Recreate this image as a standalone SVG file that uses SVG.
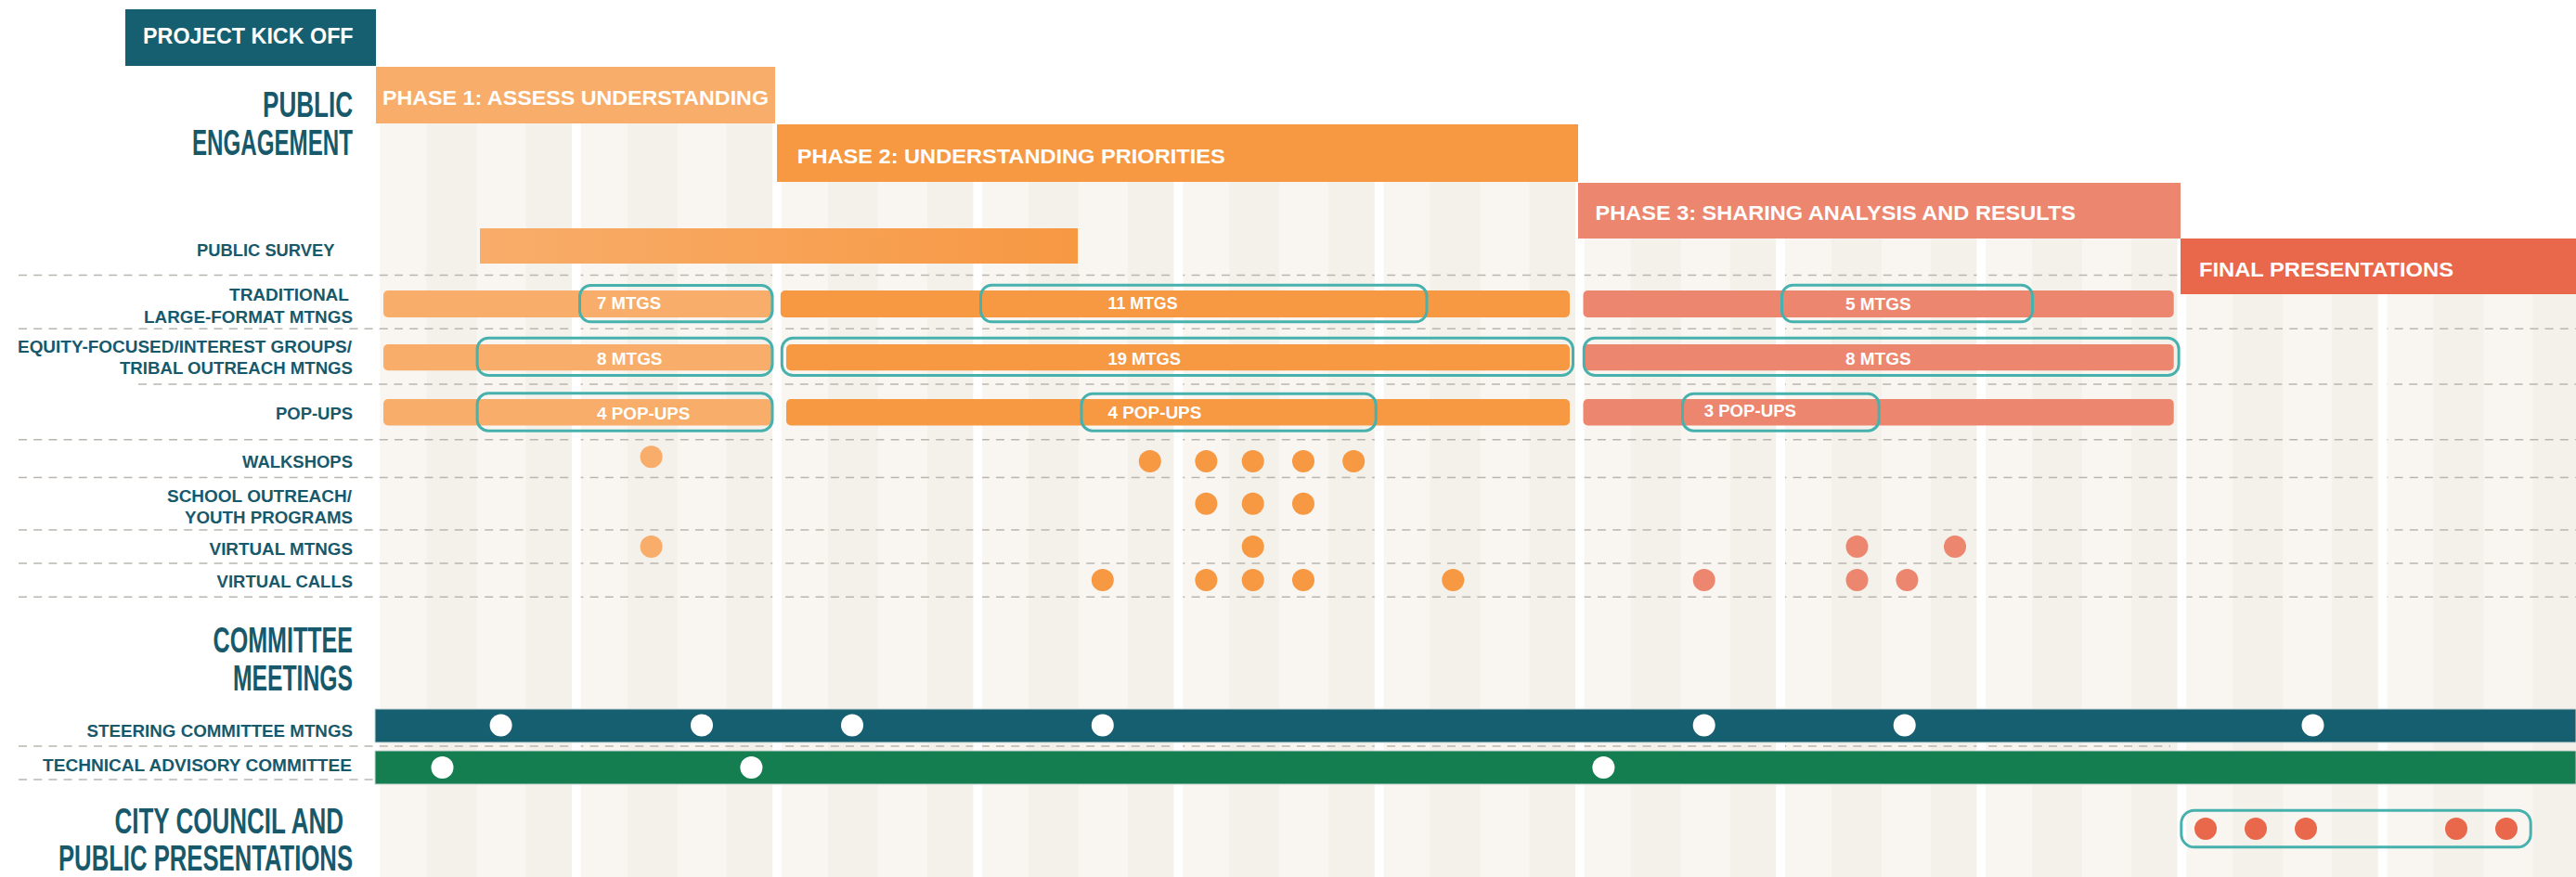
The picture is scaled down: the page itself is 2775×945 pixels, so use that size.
<svg xmlns="http://www.w3.org/2000/svg" width="2775" height="945" viewBox="0 0 2775 945">
<defs>
<style>
text{font-family:"Liberation Sans Narrow","Liberation Sans",Arial,sans-serif;font-weight:700}
.lbl{fill:#17596b;font-size:18.5px}
.hd{fill:#17596b;font-size:38px}
.ph{fill:#fff;font-size:22.5px}
.bt{fill:#fff;font-size:18.5px}
.dash{stroke:#bab5af;stroke-width:1.6;stroke-dasharray:9 7.2;fill:none}
.ol{fill:none;stroke:#47b1ad;stroke-width:3}
.lt{fill:#f9f6f2}
.dk{fill:#f4f0ea}
.gap{fill:#ffffff}
.c1{fill:#f8ad6a}
.c2{fill:#f79843}
.c3{fill:#ed866e}
.c4{fill:#e9674a}
.wd{fill:#ffffff}
</style>
<linearGradient id="survey" x1="0" y1="0" x2="1" y2="0">
<stop offset="0" stop-color="#f8ad6a"/>
<stop offset="1" stop-color="#f79843"/>
</linearGradient>
</defs>
<rect width="2775" height="945" fill="#ffffff"/>

<g id="background">
<rect class="lt" x="409.5" y="72" width="2365.5" height="873"/>
<rect class="dk" x="459.5" y="72" width="54" height="873"/>
<rect class="dk" x="566.5" y="72" width="49.5" height="873"/>
<rect class="dk" x="675.7" y="72" width="54" height="873"/>
<rect class="dk" x="782.7" y="72" width="49.5" height="873"/>
<rect class="dk" x="891.9" y="72" width="54" height="873"/>
<rect class="dk" x="998.9" y="72" width="49.5" height="873"/>
<rect class="dk" x="1108.1" y="72" width="54" height="873"/>
<rect class="dk" x="1215.1" y="72" width="49.5" height="873"/>
<rect class="dk" x="1324.3" y="72" width="54" height="873"/>
<rect class="dk" x="1431.3" y="72" width="49.5" height="873"/>
<rect class="dk" x="1540.5" y="72" width="54" height="873"/>
<rect class="dk" x="1647.5" y="72" width="49.5" height="873"/>
<rect class="dk" x="1756.7" y="72" width="54" height="873"/>
<rect class="dk" x="1863.7" y="72" width="49.5" height="873"/>
<rect class="dk" x="1972.9" y="72" width="54" height="873"/>
<rect class="dk" x="2079.9" y="72" width="49.5" height="873"/>
<rect class="dk" x="2189.1" y="72" width="54" height="873"/>
<rect class="dk" x="2296.1" y="72" width="49.5" height="873"/>
<rect class="dk" x="2405.3" y="72" width="54" height="873"/>
<rect class="dk" x="2512.3" y="72" width="49.5" height="873"/>
<rect class="dk" x="2621.5" y="72" width="54" height="873"/>
<rect class="dk" x="2728.5" y="72" width="46.5" height="873"/>
</g>

<g id="gridlines">
<line class="dash" x1="20" y1="296.5" x2="2775" y2="296.5"/>
<line class="dash" x1="20" y1="354.3" x2="2775" y2="354.3"/>
<line class="dash" x1="149" y1="414" x2="2775" y2="414"/>
<line class="dash" x1="20" y1="473.7" x2="2775" y2="473.7"/>
<line class="dash" x1="20" y1="514.5" x2="2775" y2="514.5"/>
<line class="dash" x1="20" y1="571" x2="2775" y2="571"/>
<line class="dash" x1="20" y1="607" x2="2775" y2="607"/>
<line class="dash" x1="20" y1="643.3" x2="2775" y2="643.3"/>
<line class="dash" x1="20" y1="804" x2="2338" y2="804"/>
<line class="dash" x1="20" y1="840" x2="404" y2="840"/>
</g>

<g id="gaps">
<rect class="gap" x="616" y="72" width="9.7" height="873"/>
<rect class="gap" x="832.2" y="72" width="9.7" height="873"/>
<rect class="gap" x="1048.4" y="72" width="9.7" height="873"/>
<rect class="gap" x="1264.6" y="72" width="9.7" height="873"/>
<rect class="gap" x="1480.8" y="72" width="9.7" height="873"/>
<rect class="gap" x="1697" y="72" width="9.7" height="873"/>
<rect class="gap" x="1913.2" y="72" width="9.7" height="873"/>
<rect class="gap" x="2129.4" y="72" width="9.7" height="873"/>
<rect class="gap" x="2345.6" y="72" width="9.7" height="873"/>
<rect class="gap" x="2561.8" y="72" width="9.7" height="873"/>
<rect class="gap" x="837" y="0" width="1938" height="134"/>
<rect class="gap" x="1700" y="0" width="1075" height="197"/>
<rect class="gap" x="2349" y="0" width="426" height="257"/>
</g>

<g id="kickoff">
<rect x="135" y="10" width="270" height="61" fill="#165f70"/>
<text class="ph" x="154" y="46.7" style="font-size:24px" textLength="226.6" lengthAdjust="spacingAndGlyphs">PROJECT KICK OFF</text>
</g>

<g id="phase1">
<rect class="c1" x="405" y="72" width="430" height="61"/>
<text class="ph" x="412" y="113.3" textLength="416" lengthAdjust="spacingAndGlyphs">PHASE 1: ASSESS UNDERSTANDING</text>
</g>
<g id="phase2">
<rect class="c2" x="837" y="134" width="863" height="62"/>
<text class="ph" x="858.7" y="175.7" textLength="461" lengthAdjust="spacingAndGlyphs">PHASE 2: UNDERSTANDING PRIORITIES</text>
</g>
<g id="phase3">
<rect class="c3" x="1700" y="197" width="649" height="60"/>
<text class="ph" x="1718.5" y="237.3" textLength="517.5" lengthAdjust="spacingAndGlyphs">PHASE 3: SHARING ANALYSIS AND RESULTS</text>
</g>
<g id="final">
<rect class="c4" x="2349" y="257" width="426" height="60"/>
<text class="ph" x="2369" y="297.7" textLength="274" lengthAdjust="spacingAndGlyphs">FINAL PRESENTATIONS</text>
</g>

<g id="headings">
<text class="hd" x="283" y="126" textLength="97" lengthAdjust="spacingAndGlyphs">PUBLIC</text>
<text class="hd" x="207" y="167" textLength="173" lengthAdjust="spacingAndGlyphs">ENGAGEMENT</text>
<text class="hd" x="229.6" y="702.7" textLength="150.4" lengthAdjust="spacingAndGlyphs">COMMITTEE</text>
<text class="hd" x="251" y="744" textLength="129" lengthAdjust="spacingAndGlyphs">MEETINGS</text>
<text class="hd" x="123.4" y="897.7" textLength="246.6" lengthAdjust="spacingAndGlyphs">CITY COUNCIL AND</text>
<text class="hd" x="63" y="938.3" textLength="317" lengthAdjust="spacingAndGlyphs">PUBLIC PRESENTATIONS</text>
</g>

<g id="labels">
<text class="lbl" x="212" y="275.7" textLength="148.5" lengthAdjust="spacingAndGlyphs">PUBLIC SURVEY</text>
<text class="lbl" x="247" y="324.3" textLength="129" lengthAdjust="spacingAndGlyphs">TRADITIONAL</text>
<text class="lbl" x="155" y="347.7" textLength="225" lengthAdjust="spacingAndGlyphs">LARGE-FORMAT MTNGS</text>
<text class="lbl" x="19" y="380" textLength="360" lengthAdjust="spacingAndGlyphs">EQUITY-FOCUSED/INTEREST GROUPS/</text>
<text class="lbl" x="129" y="403.3" textLength="251" lengthAdjust="spacingAndGlyphs">TRIBAL OUTREACH MTNGS</text>
<text class="lbl" x="297" y="451.7" textLength="83" lengthAdjust="spacingAndGlyphs">POP-UPS</text>
<text class="lbl" x="261" y="504.3" textLength="119" lengthAdjust="spacingAndGlyphs">WALKSHOPS</text>
<text class="lbl" x="180" y="541" textLength="199" lengthAdjust="spacingAndGlyphs">SCHOOL OUTREACH/</text>
<text class="lbl" x="199" y="564.3" textLength="181" lengthAdjust="spacingAndGlyphs">YOUTH PROGRAMS</text>
<text class="lbl" x="225.6" y="597.7" textLength="154.4" lengthAdjust="spacingAndGlyphs">VIRTUAL MTNGS</text>
<text class="lbl" x="233.6" y="633.3" textLength="146.4" lengthAdjust="spacingAndGlyphs">VIRTUAL CALLS</text>
<text class="lbl" x="93.6" y="794" textLength="286.4" lengthAdjust="spacingAndGlyphs">STEERING COMMITTEE MTNGS</text>
<text class="lbl" x="46" y="830.7" textLength="333" lengthAdjust="spacingAndGlyphs">TECHNICAL ADVISORY COMMITTEE</text>
</g>

<g id="survey-bar">
<rect x="517" y="246" width="644" height="38" fill="url(#survey)"/>
</g>

<g id="traditional">
<rect class="c1" x="413" y="313" width="418" height="29" rx="5"/>
<rect class="c2" x="840.8" y="313" width="850.2" height="29" rx="5"/>
<rect class="c3" x="1705.5" y="313" width="636.2" height="29" rx="5"/>
<rect class="ol" x="624.5" y="307.5" width="207.5" height="39.3" rx="12"/>
<rect class="ol" x="1056.5" y="307.2" width="480.5" height="39.6" rx="12"/>
<rect class="ol" x="1919.5" y="307.2" width="270" height="39.6" rx="12"/>
<text class="bt" x="643" y="333.3" textLength="69" lengthAdjust="spacingAndGlyphs">7 MTGS</text>
<text class="bt" x="1193.5" y="333.3" textLength="75" lengthAdjust="spacingAndGlyphs">11 MTGS</text>
<text class="bt" x="1988" y="334" textLength="70.6" lengthAdjust="spacingAndGlyphs">5 MTGS</text>
</g>

<g id="equity">
<rect class="c1" x="413" y="371" width="418" height="28.3" rx="5"/>
<rect class="c2" x="847" y="371" width="844" height="28.3" rx="5"/>
<rect class="c3" x="1705.5" y="371" width="636.2" height="28.3" rx="5"/>
<rect class="ol" x="514.1" y="364.2" width="317.9" height="40.3" rx="12"/>
<rect class="ol" x="842.3" y="364.2" width="852.2" height="40.3" rx="12"/>
<rect class="ol" x="1706.3" y="364.2" width="640.8" height="40.3" rx="12"/>
<text class="bt" x="643" y="393.3" textLength="70.5" lengthAdjust="spacingAndGlyphs">8 MTGS</text>
<text class="bt" x="1193.5" y="393.3" textLength="78.5" lengthAdjust="spacingAndGlyphs">19 MTGS</text>
<text class="bt" x="1988" y="393.3" textLength="70.6" lengthAdjust="spacingAndGlyphs">8 MTGS</text>
</g>

<g id="popups">
<rect class="c1" x="413" y="430" width="418" height="28.5" rx="5"/>
<rect class="c2" x="847" y="430" width="844" height="28.5" rx="5"/>
<rect class="c3" x="1705.5" y="430" width="636.2" height="28.5" rx="5"/>
<rect class="ol" x="514.1" y="423.8" width="317.9" height="40.4" rx="12"/>
<rect class="ol" x="1165" y="424.2" width="317.2" height="40" rx="12"/>
<rect class="ol" x="1812.5" y="424.2" width="211.7" height="40" rx="12"/>
<text class="bt" x="643" y="451.7" textLength="100.4" lengthAdjust="spacingAndGlyphs">4 POP-UPS</text>
<text class="bt" x="1193.5" y="451" textLength="100.8" lengthAdjust="spacingAndGlyphs">4 POP-UPS</text>
<text class="bt" x="1835.7" y="449.3" textLength="99.3" lengthAdjust="spacingAndGlyphs">3 POP-UPS</text>
</g>

<g id="walkshops">
<circle class="c1" cx="701.6" cy="492.3" r="12"/>
<circle class="c2" cx="1238.8" cy="497" r="12"/>
<circle class="c2" cx="1299.4" cy="497" r="12"/>
<circle class="c2" cx="1349.7" cy="497" r="12"/>
<circle class="c2" cx="1404" cy="497" r="12"/>
<circle class="c2" cx="1458.2" cy="497" r="12"/>
</g>
<g id="school">
<circle class="c2" cx="1299.4" cy="542.7" r="12"/>
<circle class="c2" cx="1349.7" cy="542.7" r="12"/>
<circle class="c2" cx="1404" cy="542.7" r="12"/>
</g>
<g id="virtual-mtngs">
<circle class="c1" cx="701.6" cy="589" r="12"/>
<circle class="c2" cx="1349.7" cy="589" r="12"/>
<circle class="c3" cx="2000.5" cy="589" r="12"/>
<circle class="c3" cx="2106" cy="589" r="12"/>
</g>
<g id="virtual-calls">
<circle class="c2" cx="1187.8" cy="625" r="12"/>
<circle class="c2" cx="1299.4" cy="625" r="12"/>
<circle class="c2" cx="1349.7" cy="625" r="12"/>
<circle class="c2" cx="1404" cy="625" r="12"/>
<circle class="c2" cx="1565.3" cy="625" r="12"/>
<circle class="c3" cx="1835.7" cy="625" r="12"/>
<circle class="c3" cx="2000.5" cy="625" r="12"/>
<circle class="c3" cx="2054.4" cy="625" r="12"/>
</g>

<g id="steering">
<rect x="404" y="764" width="2371" height="36" fill="#155f70" stroke="#cbd6d5" stroke-width="1"/>
<circle class="wd" cx="539.6" cy="781.5" r="12"/>
<circle class="wd" cx="756" cy="781.5" r="12"/>
<circle class="wd" cx="918" cy="781.5" r="12"/>
<circle class="wd" cx="1187.8" cy="781.5" r="12"/>
<circle class="wd" cx="1835.7" cy="781.5" r="12"/>
<circle class="wd" cx="2051.7" cy="781.5" r="12"/>
<circle class="wd" cx="2491.5" cy="781.5" r="12"/>
</g>
<g id="tac">
<rect x="404" y="809" width="2371" height="36" fill="#147e51" stroke="#cbd6d5" stroke-width="1"/>
<circle class="wd" cx="476.5" cy="827" r="12"/>
<circle class="wd" cx="809.4" cy="827" r="12"/>
<circle class="wd" cx="1727.4" cy="827" r="12"/>
</g>

<g id="council">
<rect class="ol" x="2349.8" y="873.2" width="376.4" height="39.6" rx="14"/>
<circle class="c4" cx="2376" cy="893" r="12"/>
<circle class="c4" cx="2430" cy="893" r="12"/>
<circle class="c4" cx="2484" cy="893" r="12"/>
<circle class="c4" cx="2646" cy="893" r="12"/>
<circle class="c4" cx="2700" cy="893" r="12"/>
</g>
</svg>
